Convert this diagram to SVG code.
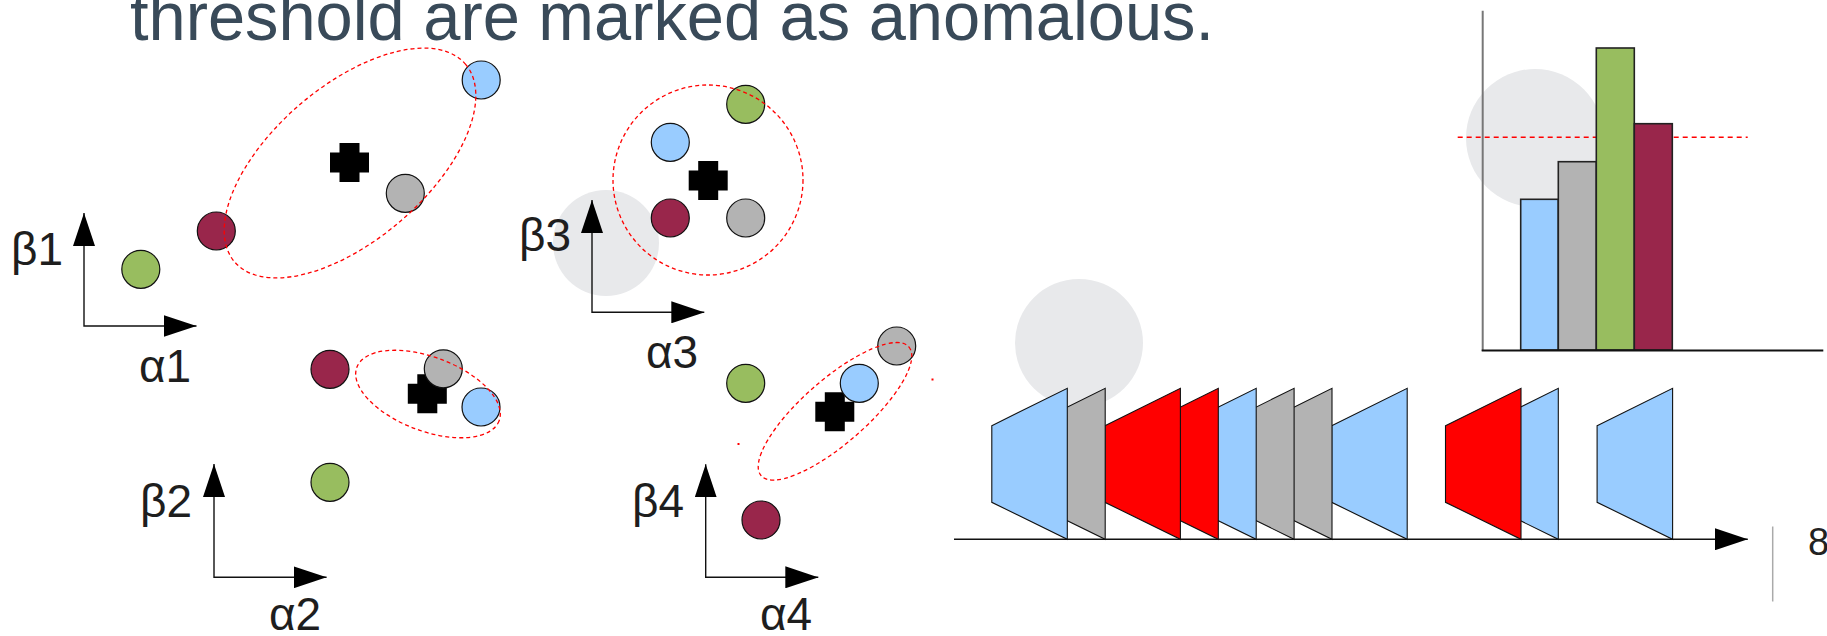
<svg xmlns="http://www.w3.org/2000/svg" xmlns:xlink="http://www.w3.org/1999/xlink" width="1827" height="636" viewBox="0 0 1827 636">
<defs>
<style>
.title{font-family:"Liberation Sans",Arial,sans-serif;font-size:68px;fill:#394a59}
.lbl{font-family:"Liberation Sans",Arial,sans-serif;font-size:46px;fill:#1e1e1e}
.disc{fill:#e8e9eb}
.pt{stroke:#111;stroke-width:1.2}
.blue{fill:#99ccff}
.gray{fill:#b3b3b3}
.green{fill:#98bd5f}
.maroon{fill:#99264b}
.red{fill:#ff0000}
.ell{fill:none;stroke:#ff0000;stroke-width:1.3;stroke-dasharray:4 3}
.axis{fill:none;stroke:#111;stroke-width:1.4}
.trap{stroke:#111;stroke-width:1.1;stroke-linejoin:miter}
.bar{stroke:#222;stroke-width:1.6}
</style>
<marker id="arr" viewBox="0 0 33 22" refX="33" refY="11" markerWidth="33" markerHeight="22" markerUnits="userSpaceOnUse" orient="auto-start-reverse">
<path d="M0,0 L33,11 L0,22 Z" fill="#000"/>
</marker>
<path id="cross" d="M-10,-19.5 H10 V-10 H19.5 V10 H10 V19.5 H-10 V10 H-19.5 V-10 H-10 Z" fill="#000"/>
<path id="trap" d="M-75.5,425.7 L0,388.3 L0,539.3 L-75.5,502.3 Z"/>
</defs>

<g id="backdrops">
<circle class="disc" cx="606" cy="243" r="53"/>
<circle class="disc" cx="1079" cy="343" r="64"/>
<circle class="disc" cx="1535" cy="138" r="69"/>
</g>

<g id="title">
<text class="title" x="130" y="40" textLength="1084" lengthAdjust="spacingAndGlyphs">threshold are marked as anomalous.</text>
</g>

<g id="connectors">
<path class="axis" d="M84,213 V326 H196.5" marker-start="url(#arr)" marker-end="url(#arr)"/>
<path class="axis" d="M214,464 V577.3 H326.6" marker-start="url(#arr)" marker-end="url(#arr)"/>
<path class="axis" d="M592,200 V312.3 H704.3" marker-start="url(#arr)" marker-end="url(#arr)"/>
<path class="axis" d="M705.7,464.3 V577.3 H818.3" marker-start="url(#arr)" marker-end="url(#arr)"/>
<path class="axis" d="M954,539.3 H1747.8" marker-end="url(#arr)"/>
</g>

<g id="plot1">
<text class="lbl" x="11" y="265">β1</text>
<text class="lbl" x="139" y="381.7">α1</text>
<use xlink:href="#cross" href="#cross" x="349.5" y="162.5"/>
<circle class="pt green" cx="140.8" cy="269.3" r="19"/>
<circle class="pt maroon" cx="216.3" cy="231" r="19"/>
<circle class="pt gray" cx="405.3" cy="193.3" r="19"/>
<circle class="pt blue" cx="481.2" cy="80" r="19"/>
<ellipse class="ell" cx="350" cy="163" rx="152" ry="77" transform="rotate(-40.6 350 163)"/>
</g>

<g id="plot2">
<text class="lbl" x="140" y="516.7">β2</text>
<text class="lbl" x="269" y="630">α2</text>
<use xlink:href="#cross" href="#cross" x="427.3" y="393.8"/>
<circle class="pt maroon" cx="330" cy="369.3" r="19"/>
<circle class="pt green" cx="330" cy="482.3" r="19"/>
<circle class="pt gray" cx="443.3" cy="368.8" r="19"/>
<circle class="pt blue" cx="481" cy="407" r="19"/>
<ellipse class="ell" cx="428" cy="394" rx="76" ry="37" transform="rotate(20.6 428 394)"/>
</g>

<g id="plot3">
<text class="lbl" x="519" y="250.7">β3</text>
<text class="lbl" x="646" y="368.3">α3</text>
<use xlink:href="#cross" href="#cross" x="708.2" y="180.5"/>
<circle class="pt green" cx="745.7" cy="104.3" r="19"/>
<circle class="pt blue" cx="670.3" cy="142.3" r="19"/>
<circle class="pt maroon" cx="670.3" cy="218" r="19"/>
<circle class="pt gray" cx="745.7" cy="218" r="19"/>
<circle class="ell" cx="708" cy="180" r="95"/>
</g>

<g id="plot4">
<text class="lbl" x="632" y="516.7">β4</text>
<text class="lbl" x="760" y="630">α4</text>
<use xlink:href="#cross" href="#cross" x="834.8" y="411.7"/>
<circle class="pt green" cx="745.7" cy="383.3" r="19"/>
<circle class="pt blue" cx="859.3" cy="383.3" r="19"/>
<circle class="pt gray" cx="896.7" cy="346" r="19"/>
<circle class="pt maroon" cx="761" cy="520" r="19"/>
<ellipse class="ell" cx="835" cy="411.3" rx="98" ry="32" transform="rotate(-41.1 835 411.3)"/>
<rect class="red" x="737.5" y="443" width="2" height="2"/>
<rect class="red" x="931.5" y="378.5" width="2" height="2"/>
</g>

<g id="timeline">
<use xlink:href="#trap" href="#trap" class="trap blue" x="1672.6"/>
<use xlink:href="#trap" href="#trap" class="trap blue" x="1558.3"/>
<use xlink:href="#trap" href="#trap" class="trap red" x="1521"/>
<use xlink:href="#trap" href="#trap" class="trap blue" x="1407.2"/>
<use xlink:href="#trap" href="#trap" class="trap gray" x="1332"/>
<use xlink:href="#trap" href="#trap" class="trap gray" x="1294.1"/>
<use xlink:href="#trap" href="#trap" class="trap blue" x="1256.2"/>
<use xlink:href="#trap" href="#trap" class="trap red" x="1218.3"/>
<use xlink:href="#trap" href="#trap" class="trap red" x="1180.4"/>
<use xlink:href="#trap" href="#trap" class="trap gray" x="1105.2"/>
<use xlink:href="#trap" href="#trap" class="trap blue" x="1067.3"/>
</g>

<g id="page-edge">
<line x1="1772.7" y1="526.5" x2="1772.7" y2="601.5" stroke="#aaaaaa" stroke-width="1.5"/>
<text x="1808" y="555" font-family="Liberation Sans, Arial, sans-serif" font-size="38" fill="#222">8</text>
</g>

<g id="barchart">
<line x1="1457.7" y1="137.3" x2="1747.7" y2="137.3" stroke="#ff0000" stroke-width="1.5" stroke-dasharray="5 4"/>
<rect class="bar blue" x="1520.7" y="199.3" width="37.6" height="150.7"/>
<rect class="bar gray" x="1558.3" y="161.7" width="38" height="188.3"/>
<rect class="bar green" x="1596.3" y="48" width="38" height="302"/>
<rect class="bar maroon" x="1634.3" y="123.7" width="38" height="226.3"/>
<line x1="1482.7" y1="10.7" x2="1482.7" y2="351" stroke="#777" stroke-width="2"/>
<line x1="1481.7" y1="350.5" x2="1823.3" y2="350.5" stroke="#111" stroke-width="2"/>
</g>
</svg>
